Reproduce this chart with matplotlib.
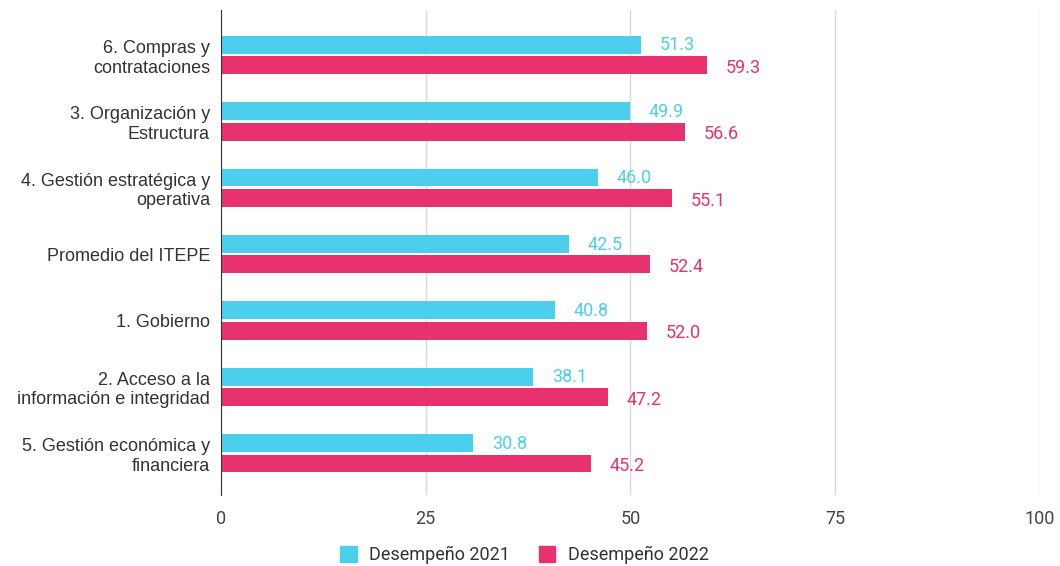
import numpy as np
import matplotlib.pyplot as plt
from matplotlib.patches import Patch

categories = ["6. Compras y\ncontrataciones", "3. Organización y\nEstructura",
              "4. Gestión estratégica y\noperativa", "Promedio del ITEPE",
              "1. Gobierno", "2. Acceso a la\ninformación e integridad",
              "5. Gestión económica y\nfinanciera"]
d2021 = [51.3, 49.9, 46.0, 42.5, 40.8, 38.1, 30.8]
d2022 = [59.3, 56.6, 55.1, 52.4, 52.0, 47.2, 45.2]
series = ["Desempeño 2021", "Desempeño 2022"]
c2021 = "#4ccfec"
c2022 = "#e8316f"

fig = plt.figure(figsize=(10.6, 5.66), dpi=100)
ax = fig.add_axes([0.2085, 0.1254, 0.7726, 0.857])

y = np.arange(len(categories))
h = 0.27
ax.barh(y - h / 2 - 0.02, d2021, height=h, color=c2021, zorder=3)
ax.barh(y + h / 2 + 0.02, d2022, height=h, color=c2022, zorder=3)

for i in range(len(categories)):
    ax.text(d2021[i] + 2.3, y[i] - h / 2 - 0.01, f"{d2021[i]:.1f}", color=c2021,
            va="center", ha="left", fontsize=13, family="Roboto")
    ax.text(d2022[i] + 2.3, y[i] + h / 2 + 0.06, f"{d2022[i]:.1f}", color=c2022,
            va="center", ha="left", fontsize=13, family="Roboto")

ax.set_xlim(0, 100)
ax.set_ylim(6.63, -0.68)
ax.set_xticks([0, 25, 50, 75, 100])
ax.set_yticks(y)
ax.set_yticklabels(categories, fontsize=13, color="#333333", family="Liberation Sans",
                   linespacing=1.2, multialignment="right")
for lab in ax.get_xticklabels():
    lab.set_family("Roboto")
ax.tick_params(axis="x", labelsize=13, colors="#444444", length=0, pad=11)
ax.tick_params(axis="y", length=0, pad=8)
ax.grid(axis="x", color="#d9d9d9", linewidth=1, zorder=0)
for s in ["top", "right", "bottom"]:
    ax.spines[s].set_visible(False)
ax.spines["left"].set_color("#333333")
ax.spines["left"].set_zorder(4)

handles = [Patch(color=c2021, label=series[0]), Patch(color=c2022, label=series[1])]
fig.legend(handles=handles, loc="center", bbox_to_anchor=(0.495, 0.019), ncol=2,
           frameon=False, handlelength=0.9, handleheight=1.0, handletextpad=0.7,
           columnspacing=1.6, prop={"family": "Roboto", "size": 13}, labelcolor="#333333")

fig.savefig("out.png", dpi=100)
